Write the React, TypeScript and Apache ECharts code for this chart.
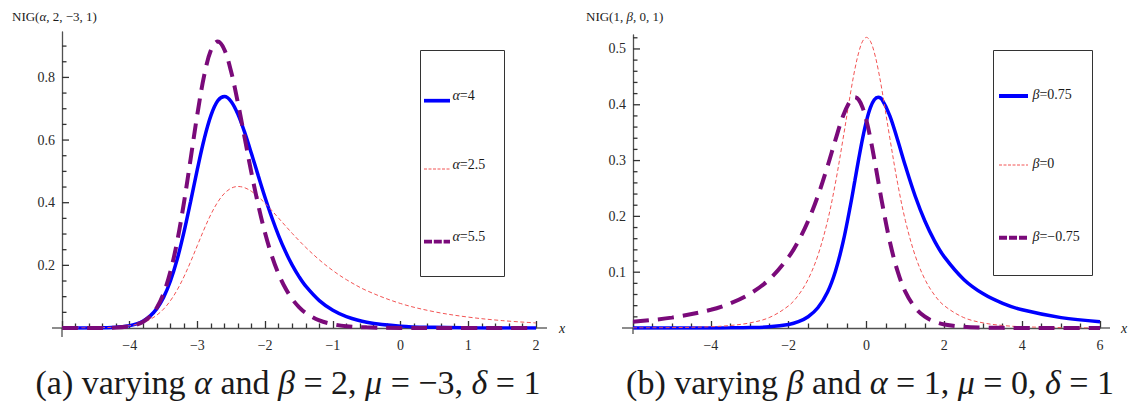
import React, { useEffect, useRef } from "react";
import * as echarts from "echarts";

// ---------- data ----------
// (a) NIG(alpha, 2, -3, 1)
const leftX = [-5, -4.5, -4.2, -4, -3.9, -3.8, -3.7, -3.6, -3.5, -3.4, -3.3, -3.2, -3.1, -3, -2.9, -2.8, -2.7, -2.6, -2.5, -2.4, -2.3, -2.2, -2.1, -2, -1.9, -1.8, -1.7, -1.6, -1.5, -1.4, -1.2, -1, -0.8, -0.5, 0, 0.5, 1, 1.5, 2];
const alpha4 = [0.00002, 0.0004, 0.0024, 0.0076, 0.0133, 0.0226, 0.0379, 0.0618, 0.0978, 0.1492, 0.2184, 0.305, 0.4045, 0.508, 0.6034, 0.6788, 0.7252, 0.7391, 0.7225, 0.6812, 0.6231, 0.5554, 0.4849, 0.416, 0.3519, 0.2943, 0.2439, 0.2006, 0.164, 0.1334, 0.0873, 0.0565, 0.0364, 0.0186, 0.006, 0.002, 0.0006, 0.0002, 0.0001];
const alpha25 = [0.0001, 0.0007, 0.0029, 0.0073, 0.0114, 0.0178, 0.0272, 0.041, 0.0604, 0.0868, 0.1211, 0.1632, 0.2118, 0.264, 0.3159, 0.3632, 0.402, 0.43, 0.4465, 0.4518, 0.4477, 0.436, 0.4188, 0.3978, 0.3746, 0.3504, 0.3261, 0.3021, 0.2792, 0.2573, 0.2176, 0.1834, 0.1544, 0.1193, 0.0782, 0.0518, 0.0348, 0.0236, 0.0162];
const alpha55 = [0, 0.0002, 0.0014, 0.0055, 0.0107, 0.0201, 0.0368, 0.065, 0.1105, 0.1792, 0.2754, 0.3987, 0.5405, 0.6837, 0.8063, 0.8873, 0.9144, 0.8875, 0.8163, 0.7166, 0.6044, 0.4928, 0.3907, 0.3025, 0.2297, 0.1717, 0.1267, 0.0924, 0.0668, 0.0479, 0.0242, 0.0121, 0.0059, 0.002, 0.0003, 0.0001, 0, 0, 0];

// (b) NIG(1, beta, 0, 1)
const rightX = [-6, -5, -4, -3.5, -3, -2.5, -2, -1.75, -1.5, -1.25, -1, -0.8, -0.6, -0.4, -0.3, -0.2, -0.1, 0, 0.1, 0.2, 0.3, 0.4, 0.6, 0.8, 1, 1.25, 1.5, 1.75, 2, 2.5, 3, 3.5, 4, 5, 6];
const beta075 = [0.000001, 0.00001, 0.00008, 0.00023, 0.00068, 0.00205, 0.00634, 0.0113, 0.0202, 0.0363, 0.0647, 0.1014, 0.1546, 0.2245, 0.2637, 0.303, 0.3399, 0.3712, 0.3948, 0.4089, 0.4135, 0.4091, 0.3802, 0.3367, 0.2901, 0.2365, 0.1917, 0.1558, 0.1274, 0.087, 0.0612, 0.0442, 0.0326, 0.0186, 0.0112];
const beta0 = [0.00018, 0.00062, 0.0023, 0.0045, 0.0091, 0.0187, 0.0399, 0.0588, 0.0873, 0.1299, 0.1922, 0.2592, 0.3401, 0.4252, 0.4632, 0.4938, 0.5139, 0.5208, 0.5139, 0.4938, 0.4632, 0.4252, 0.3401, 0.2592, 0.1922, 0.1299, 0.0873, 0.0588, 0.0399, 0.0187, 0.0091, 0.0045, 0.0023, 0.00062, 0.00018];
const betaNeg075 = [0.0112, 0.0186, 0.0326, 0.0442, 0.0612, 0.087, 0.1274, 0.1558, 0.1917, 0.2365, 0.2901, 0.3367, 0.3802, 0.4091, 0.4135, 0.4089, 0.3948, 0.3712, 0.3399, 0.303, 0.2637, 0.2245, 0.1546, 0.1014, 0.0647, 0.0363, 0.0202, 0.0113, 0.00634, 0.00205, 0.00068, 0.00023, 0.00008, 0.00001, 0.000001];

// ticks
const leftYLabels = [0.2, 0.4, 0.6, 0.8];
const leftYMinor = [0.05, 0.1, 0.15, 0.25, 0.3, 0.35, 0.45, 0.5, 0.55, 0.65, 0.7, 0.75, 0.85, 0.9];
const rightYLabels = [0.1, 0.2, 0.3, 0.4, 0.5];
const rightYMinor = [0.02, 0.04, 0.06, 0.08, 0.12, 0.14, 0.16, 0.18, 0.22, 0.24, 0.26, 0.28, 0.32, 0.34, 0.36, 0.38, 0.42, 0.44, 0.46, 0.48, 0.52];

const leftLegend = ["4", "2.5", "5.5"];
const rightLegend = ["0.75", "0", "\u22120.75"];

// ---------- layout & styles ----------
const SERIF = "Liberation Serif";
const AXIS = "#505050";
const TICK = "#333333";
const LABEL = "#2a2a2a";
const BLUE = "#0000ff";
const RED = "#f25454";
const PURPLE = "#7a0a7a";
const MAJOR_LEN = 7;
const MINOR_LEN = 4.5;

const GRID_L = { left: 62, top: 32, width: 474, height: 296 };
const GRID_R = { left: 633, top: 35, width: 467, height: 293 };
const YMAX_L = 0.945;
const YMAX_R = 0.525;

const fmt = (v: number) => (v < 0 ? "\u2212" + String(Math.abs(v)) : String(v));

function mkX(gridIndex: number, min: number, max: number, interval: number, split: number) {
  return {
    type: "value",
    gridIndex,
    min,
    max,
    interval,
    axisLine: { show: true, onZero: false, lineStyle: { color: AXIS, width: 1.3 } },
    axisTick: { show: true, inside: true, length: MAJOR_LEN, lineStyle: { color: TICK, width: 1.3 } },
    minorTick: { show: true, splitNumber: split, length: MINOR_LEN, lineStyle: { color: TICK, width: 1.3 } },
    axisLabel: {
      color: LABEL,
      fontFamily: SERIF,
      fontSize: 14,
      margin: 10,
      formatter: (v: number) => (Math.abs(v - min) < 1e-9 ? "" : fmt(v)),
    },
    splitLine: { show: false },
    minorSplitLine: { show: false },
  };
}

function mkY(gridIndex: number, max: number, labels: number[]) {
  return {
    type: "value",
    gridIndex,
    min: 0,
    max,
    position: "left",
    axisLine: { show: true, onZero: false, lineStyle: { color: AXIS, width: 1.3 } },
    axisTick: { show: false },
    axisLabel: { customValues: labels, color: LABEL, fontFamily: SERIF, fontSize: 14, margin: 7, formatter: (v: number) => fmt(v) },
    splitLine: { show: false },
  };
}

function mkLine(name: string, xs: number[], ys: number[], xi: number, yi: number, lineStyle: any, z: number) {
  return {
    name,
    type: "line",
    xAxisIndex: xi,
    yAxisIndex: yi,
    data: xs.map((x, i) => [x, ys[i]]),
    symbol: "none",
    showSymbol: false,
    smooth: 0.35,
    silent: true,
    clip: true,
    z,
    lineStyle,
  };
}

const richBase = (size: number) => ({
  n: { fontFamily: SERIF, fontSize: size, fill: "#1a1a1a" },
  i: { fontFamily: SERIF, fontSize: size, fontStyle: "italic", fill: "#1a1a1a" },
});

function txt(x: number, y: number, text: string, size: number, align = "left") {
  return {
    type: "text",
    x,
    y,
    z: 120,
    silent: true,
    style: {
      text,
      rich: richBase(size),
      fontFamily: SERIF,
      fontSize: size,
      fill: "#1a1a1a",
      align,
      textAlign: align,
      verticalAlign: "middle",
      textVerticalAlign: "middle",
    },
  };
}

function seg(x1: number, y1: number, x2: number, y2: number, stroke: string, lineWidth: number, lineDash?: number[]) {
  return {
    type: "line",
    z: 120,
    silent: true,
    shape: { x1, y1, x2, y2 },
    style: { stroke, lineWidth, lineDash: lineDash || null, lineCap: "butt" },
  };
}

// y-axis tick marks along a grid's left edge (axis decoration)
function yTicks(grid: { left: number; top: number; width: number; height: number }, max: number, vals: number[], len: number) {
  return vals.map((v) => {
    const y = grid.top + grid.height * (1 - v / max);
    return seg(grid.left, y, grid.left + len, y, TICK, 1.3);
  });
}

export default function App() {
  const ref = useRef<HTMLDivElement>(null);

  useEffect(() => {
    if (!ref.current) return;
    const chart = echarts.init(ref.current, null, { renderer: "svg" });

    const blueStyle = { color: BLUE, width: 3.5, type: "solid" };
    const redStyle = { color: RED, width: 1, type: [4, 2.5] };
    const purpleStyle = { color: PURPLE, width: 4, type: [16, 9], cap: "butt" };

    const legendLeftY = [100.7, 169, 241.7];
    const legendRightY = [96, 165, 237.7];

    const graphic: any[] = [
      // axis overhangs (Mathematica style)
      seg(52, 328, 62, 328, AXIS, 1.3),
      seg(536, 328, 547, 328, AXIS, 1.3),
      seg(62, 328, 62, 337, AXIS, 1.3),
      seg(622, 328, 633, 328, AXIS, 1.3),
      seg(1100, 328, 1110, 328, AXIS, 1.3),
      seg(633, 328, 633, 334, AXIS, 1.3),
      // y ticks
      ...yTicks(GRID_L, YMAX_L, leftYLabels, MAJOR_LEN),
      ...yTicks(GRID_L, YMAX_L, leftYMinor, MINOR_LEN),
      ...yTicks(GRID_R, YMAX_R, rightYLabels, MAJOR_LEN),
      ...yTicks(GRID_R, YMAX_R, rightYMinor, MINOR_LEN),
      // axis names
      txt(559, 328, "{i|x}", 14),
      txt(1121, 328, "{i|x}", 14),
      // titles
      txt(12, 16.5, "{n|NIG(}{i|\u03b1}{n|, 2, \u22123, 1)}", 13),
      txt(586, 16.5, "{n|NIG(1, }{i|\u03b2}{n|, 0, 1)}", 13),
      // legend boxes
      {
        type: "rect",
        z: 110,
        silent: true,
        shape: { x: 420.5, y: 50.5, width: 84, height: 226 },
        style: { fill: "#ffffff", stroke: "#333", lineWidth: 1 },
      },
      {
        type: "rect",
        z: 110,
        silent: true,
        shape: { x: 993.5, y: 50.5, width: 99, height: 225 },
        style: { fill: "#ffffff", stroke: "#333", lineWidth: 1 },
      },
      // left legend
      seg(424, legendLeftY[0], 450, legendLeftY[0], BLUE, 3.7),
      seg(424, legendLeftY[1], 450, legendLeftY[1], RED, 1, [3, 1.5]),
      seg(424, legendLeftY[2], 450, legendLeftY[2], PURPLE, 3.7, [8, 1.8]),
      txt(452.5, legendLeftY[0] - 5.5, "{i|\u03b1}{n|=" + leftLegend[0] + "}", 14),
      txt(452.5, legendLeftY[1] - 5, "{i|\u03b1}{n|=" + leftLegend[1] + "}", 14),
      txt(452.5, legendLeftY[2] - 5, "{i|\u03b1}{n|=" + leftLegend[2] + "}", 14),
      // right legend
      seg(999, legendRightY[0], 1028, legendRightY[0], BLUE, 4),
      seg(999, legendRightY[1], 1028, legendRightY[1], RED, 1, [3, 1.5]),
      seg(999, legendRightY[2], 1028, legendRightY[2], PURPLE, 4, [8, 2]),
      txt(1032.5, legendRightY[0] - 1.5, "{i|\u03b2}{n|=" + rightLegend[0] + "}", 14),
      txt(1032.5, legendRightY[1] - 1.5, "{i|\u03b2}{n|=" + rightLegend[1] + "}", 14),
      txt(1032.5, legendRightY[2] - 1.5, "{i|\u03b2}{n|=" + rightLegend[2] + "}", 14),
      // captions
      txt(288, 382, "{n|(a) varying }{i|\u03b1}{n| and }{i|\u03b2}{n| = 2, }{i|\u03bc}{n| = \u22123, }{i|\u03b4}{n| = 1}", 34, "center"),
      txt(870, 382, "{n|(b) varying }{i|\u03b2}{n| and }{i|\u03b1}{n| = 1, }{i|\u03bc}{n| = 0, }{i|\u03b4}{n| = 1}", 34, "center"),
    ];

    const option: any = {
      animation: false,
      backgroundColor: "#ffffff",
      textStyle: { fontFamily: SERIF },
      grid: [
        { ...GRID_L, containLabel: false },
        { ...GRID_R, containLabel: false },
      ],
      xAxis: [mkX(0, -5, 2, 1, 5), mkX(1, -6, 6, 2, 4)],
      yAxis: [mkY(0, YMAX_L, leftYLabels), mkY(1, YMAX_R, rightYLabels)],
      series: [
        mkLine("\u03b1=4", leftX, alpha4, 0, 0, blueStyle, 3),
        mkLine("\u03b1=2.5", leftX, alpha25, 0, 0, redStyle, 4),
        mkLine("\u03b1=5.5", leftX, alpha55, 0, 0, purpleStyle, 5),
        mkLine("\u03b2=0.75", rightX, beta075, 1, 1, blueStyle, 3),
        mkLine("\u03b2=0", rightX, beta0, 1, 1, redStyle, 4),
        mkLine("\u03b2=\u22120.75", rightX, betaNeg075, 1, 1, purpleStyle, 5),
      ],
      graphic,
    };

    chart.setOption(option);

    return () => {
      chart.dispose();
    };
  }, []);

  return (
    <div
      ref={ref}
      style={{ width: 1136, height: 407, position: "absolute", left: 0, top: 0, background: "#fff" }}
    />
  );
}
